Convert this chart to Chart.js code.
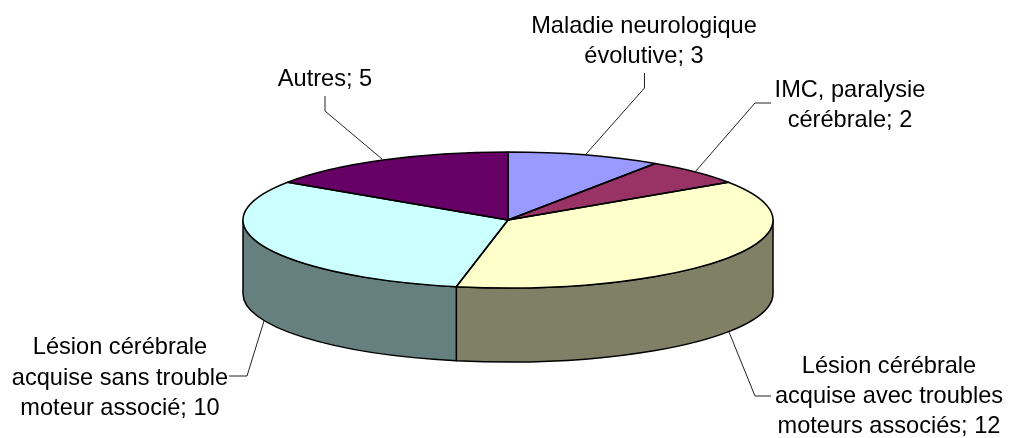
<!DOCTYPE html>
<html>
<head>
<meta charset="utf-8">
<style>html,body{margin:0;padding:0;background:#fff;overflow:hidden}canvas{display:block}</style>
<script src="https://cdn.jsdelivr.net/npm/chart.js@4"></script>
</head>
<body>
<canvas id="c" width="1010" height="438"></canvas>
<script>
const categories = ["Maladie neurologique évolutive", "IMC, paralysie cérébrale", "Lésion cérébrale acquise avec troubles moteurs associés", "Lésion cérébrale acquise sans trouble moteur associé", "Autres"];
const values = [3, 2, 12, 10, 5];
const topColors = ["#9999FF", "#993366", "#FFFFCC", "#CCFFFF", "#660066"];
const sideColors = ["#4D4D80", "#4D1A33", "#808066", "#668080", "#330033"];
const labelLines = [
  ["Maladie neurologique", "évolutive; " + values[0]],
  ["IMC, paralysie", "cérébrale; " + values[1]],
  ["Lésion cérébrale", "acquise avec troubles", "moteurs associés; " + values[2]],
  ["Lésion cérébrale", "acquise sans trouble", "moteur associé; " + values[3]],
  ["Autres; " + values[4]]
];
const labelAnchors = [[644, [33, 63]], [850, [97, 127]], [889, [373, 403, 433]], [120, [354, 385, 415]], [325, [86]]];
const leaders = [
  [[644.5, 73], [644.5, 88], [586, 154]],
  [[771, 103], [755, 103], [695, 172]],
  [[771, 396], [755, 396], [729, 332]],
  [[229, 376], [247, 376], [264, 321]],
  [[325, 96], [325, 111], [382, 159]]
];
const view = {cx: 508, cy: 220, rx: 265, ry: 68, depth: 74};

const pie3d = {
  id: "pie3d",
  beforeDatasetsDraw(chart) {
    const ctx = chart.ctx, arcs = chart.getDatasetMeta(0).data;
    // side wall, only the part facing the viewer
    ctx.save();
    ctx.lineWidth = 1.5; ctx.strokeStyle = "#000"; ctx.lineJoin = "round";
    arcs.forEach((a, i) => {
      const lo = Math.max(a.startAngle, 0), hi = Math.min(a.endAngle, Math.PI);
      if (hi <= lo) return;
      ctx.beginPath();
      ctx.ellipse(view.cx, view.cy, view.rx, view.ry, 0, lo, hi);
      ctx.ellipse(view.cx, view.cy + view.depth, view.rx, view.ry, 0, hi, lo, true);
      ctx.closePath();
      ctx.fillStyle = sideColors[i];
      ctx.fill(); ctx.stroke();
    });
    ctx.restore();
    // squash the library's own arcs into the top face
    const a0 = arcs[0];
    ctx.save();
    ctx.translate(view.cx, view.cy);
    ctx.scale(view.rx / a0.outerRadius, view.ry / a0.outerRadius);
    ctx.translate(-a0.x, -a0.y);
  },
  afterDatasetsDraw(chart) {
    const ctx = chart.ctx, arcs = chart.getDatasetMeta(0).data;
    ctx.restore();
    ctx.lineWidth = 1.5; ctx.strokeStyle = "#000"; ctx.lineJoin = "round";
    arcs.forEach(a => {
      ctx.beginPath();
      ctx.moveTo(view.cx, view.cy);
      ctx.ellipse(view.cx, view.cy, view.rx, view.ry, 0, a.startAngle, a.endAngle);
      ctx.closePath();
      ctx.stroke();
    });
    ctx.lineWidth = 1; ctx.strokeStyle = "#222";
    leaders.forEach(pts => {
      ctx.beginPath();
      pts.forEach((p, i) => i ? ctx.lineTo(p[0], p[1]) : ctx.moveTo(p[0], p[1]));
      ctx.stroke();
    });
    ctx.fillStyle = "#000";
    ctx.font = '23.6px "Liberation Sans", Arial, sans-serif';
    ctx.textAlign = "center"; ctx.textBaseline = "alphabetic";
    labelLines.forEach((lines, i) => {
      lines.forEach((t, j) => ctx.fillText(t, labelAnchors[i][0], labelAnchors[i][1][j]));
    });
  }
};

new Chart(document.getElementById("c"), {
  type: "pie",
  data: {
    labels: categories,
    datasets: [{data: values, backgroundColor: topColors, borderWidth: 0, clip: false}]
  },
  options: {
    responsive: false,
    animation: false,
    events: [],
    layout: {padding: 0},
    plugins: {legend: {display: false}, tooltip: {enabled: false}, title: {display: false}}
  },
  plugins: [pie3d]
});
</script>
</body>
</html>
